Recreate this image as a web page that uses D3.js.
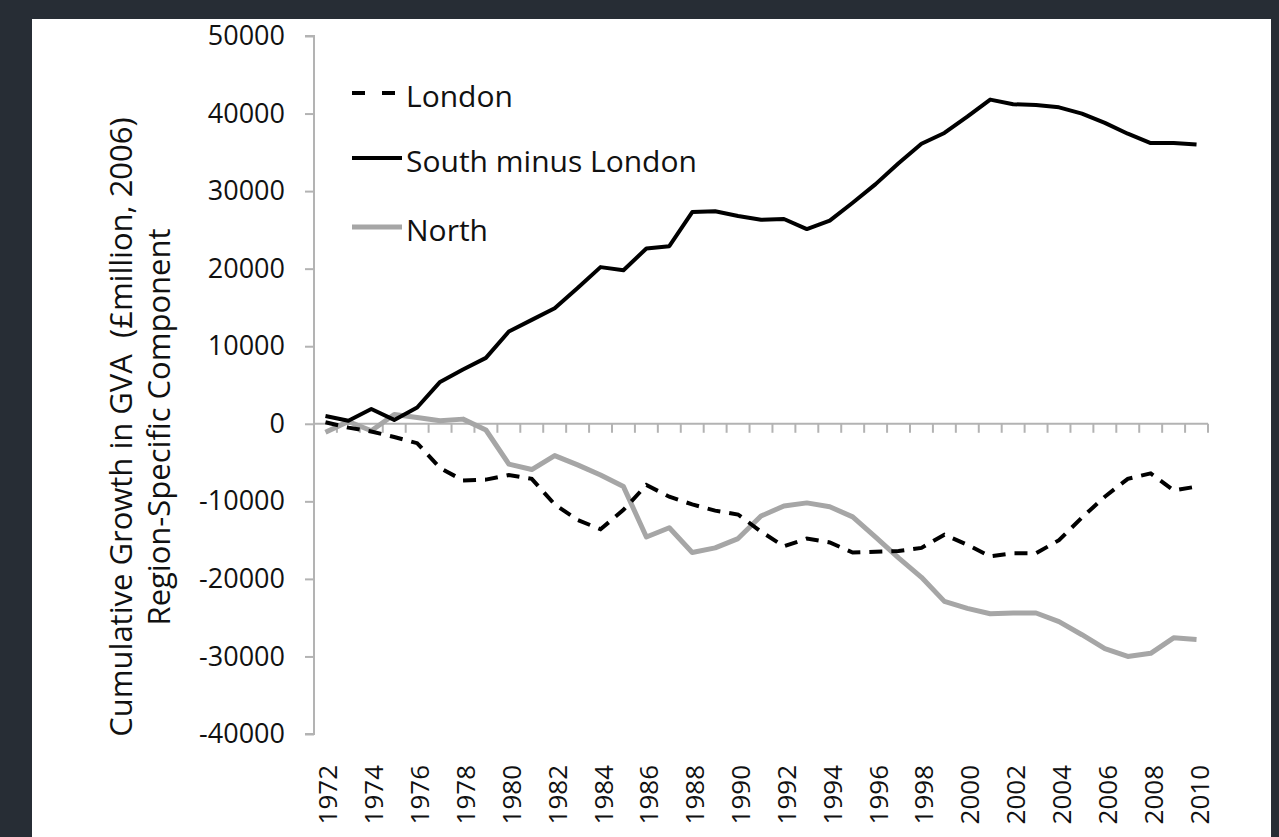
<!DOCTYPE html>
<html>
<head>
<meta charset="utf-8">
<script src="https://cdnjs.cloudflare.com/ajax/libs/d3/7.8.5/d3.min.js"></script>
<style>
  body { margin: 0; background: #272d35; }
  svg { display: block; }
</style>
</head>
<body>
<div id="chart"></div>
<script>
// data, one value per year
var years = d3.range(1972, 2011);

var london = [200, -500, -1000, -1700, -2500, -5700, -7300, -7200, -6600, -7100,
  -10400, -12400, -13600, -11100, -7900, -9400, -10400, -11200, -11700, -13900,
  -15800, -14800, -15300, -16600, -16500, -16400, -16000, -14300, -15600, -17100,
  -16700, -16700, -15000, -12100, -9400, -7100, -6400, -8600, -8100];

var southMinusLondon = [1000, 400, 1900, 500, 2100, 5400, 7000, 8500, 11900, 13400,
  14900, 17500, 20200, 19800, 22600, 22900, 27300, 27400, 26800, 26300,
  26400, 25100, 26200, 28500, 30900, 33600, 36100, 37500, 39600, 41800,
  41200, 41100, 40800, 40000, 38800, 37400, 36200, 36200, 36000];

var north = [-1100, 300, -900, 1200, 800, 400, 600, -800, -5200, -5900,
  -4100, -5300, -6600, -8100, -14600, -13400, -16600, -16000, -14800, -11900,
  -10600, -10200, -10700, -12000, -14600, -17300, -19800, -22900, -23800, -24500,
  -24400, -24400, -25500, -27200, -29000, -30000, -29600, -27600, -27800];

var yTicks = [-40000, -30000, -20000, -10000, 0, 10000, 20000, 30000, 40000, 50000];
var xLabels = d3.range(1972, 2011, 2);

var seriesNames = ["London", "South minus London", "North"];

var W = 1279, H = 837;
var font = "'Open Sans', sans-serif";
var axisColor = "#b3b3b3";

var svg = d3.select("#chart").append("svg")
    .attr("width", W)
    .attr("height", H);

// white panel on dark page
svg.append("rect")
    .attr("x", 32).attr("y", 19)
    .attr("width", 1239).attr("height", H - 19)
    .attr("fill", "#ffffff");

var x = d3.scaleBand().domain(years).range([314, 1208]).padding(0);
var y = d3.scaleLinear().domain([-40000, 50000]).range([734, 36]);

function cx(d) { return x(d) + x.bandwidth() / 2; }

// y axis (plain hyphen for negatives, as in the original)
var yAxis = svg.append("g")
    .attr("transform", "translate(314,0)")
    .call(d3.axisLeft(y).tickValues(yTicks).tickSize(9).tickPadding(20)
      .tickFormat(function(d) { return String(d); }));
yAxis.select(".domain").attr("stroke", axisColor).attr("stroke-width", 2)
    .attr("d", "M-9," + y(50000) + "H0V" + y(-40000) + "H-9");
yAxis.selectAll(".tick line").attr("stroke", axisColor).attr("stroke-width", 2);
yAxis.selectAll(".tick text")
    .attr("fill", "#111")
    .style("font-family", font)
    .style("font-size", "27px");

// x axis along zero, ticks between the years
var xAxis = svg.append("g");
xAxis.append("line")
    .attr("x1", x.range()[0]).attr("x2", x.range()[1])
    .attr("y1", y(0)).attr("y2", y(0))
    .attr("stroke", axisColor).attr("stroke-width", 2);
var bounds = years.map(function(d) { return x(d); }).concat([x.range()[1]]);
xAxis.selectAll("line.tk")
    .data(bounds.slice(1))
    .enter().append("line")
    .attr("class", "tk")
    .attr("x1", function(d) { return d; }).attr("x2", function(d) { return d; })
    .attr("y1", y(0)).attr("y2", y(0) + 9)
    .attr("stroke", axisColor).attr("stroke-width", 2);

// year labels at the bottom, rotated
svg.selectAll("text.yr")
    .data(xLabels)
    .enter().append("text")
    .attr("class", "yr")
    .attr("transform", function(d) { return "translate(" + (cx(d) + 12) + ",765) rotate(-90)"; })
    .attr("text-anchor", "end")
    .style("font-family", font)
    .style("font-size", "26px")
    .attr("fill", "#111")
    .text(function(d) { return d; });

// y axis title, two lines
var title = svg.append("text")
    .attr("transform", "translate(0,427) rotate(-90)")
    .attr("text-anchor", "middle")
    .style("font-family", font)
    .style("font-size", "31px")
    .attr("fill", "#111");
title.append("tspan").attr("x", 0).attr("y", 132)
    .text("Cumulative Growth in GVA\u00a0\u00a0(\u00a3million, 2006)");
title.append("tspan").attr("x", 0).attr("y", 170).text("Region-Specific Component");

// lines
var line = d3.line()
    .x(function(d, i) { return cx(years[i]); })
    .y(function(d) { return y(d); });

svg.append("path").datum(north)
    .attr("d", line)
    .attr("fill", "none")
    .attr("stroke", "#a6a6a6")
    .attr("stroke-width", 5)
    .attr("stroke-linejoin", "round");

svg.append("path").datum(southMinusLondon)
    .attr("d", line)
    .attr("fill", "none")
    .attr("stroke", "#000")
    .attr("stroke-width", 4)
    .attr("stroke-linejoin", "round");

svg.append("path").datum(london)
    .attr("d", line)
    .attr("fill", "none")
    .attr("stroke", "#000")
    .attr("stroke-width", 4)
    .attr("stroke-dasharray", "13,9");

// legend
var legendStyle = [
  {dash: "13,17", color: "#000", w: 4, y: 93},
  {dash: null, color: "#000", w: 4, y: 158},
  {dash: null, color: "#a6a6a6", w: 5, y: 227}
];
var leg = svg.selectAll("g.leg")
    .data(seriesNames)
    .enter().append("g")
    .attr("class", "leg")
    .attr("transform", function(d, i) { return "translate(0," + legendStyle[i].y + ")"; });
leg.append("line")
    .attr("x1", 352).attr("x2", 402)
    .attr("stroke", function(d, i) { return legendStyle[i].color; })
    .attr("stroke-width", function(d, i) { return legendStyle[i].w; })
    .attr("stroke-dasharray", function(d, i) { return legendStyle[i].dash; });
leg.append("text")
    .attr("x", 406).attr("y", 3)
    .attr("dy", "0.35em")
    .style("font-family", font)
    .style("font-size", "30px")
    .attr("fill", "#111")
    .text(function(d) { return d; });
</script>
</body>
</html>
